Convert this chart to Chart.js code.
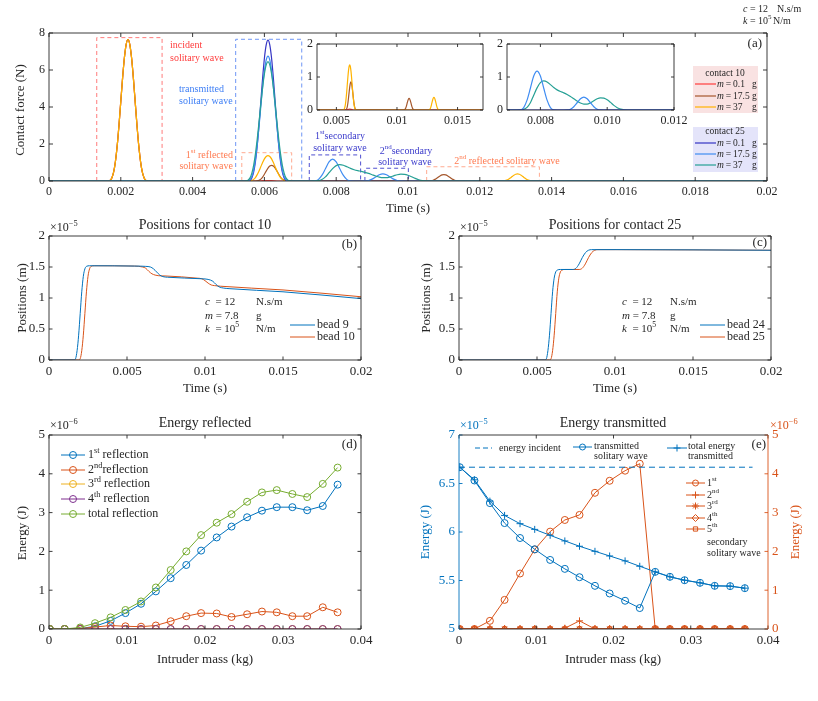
<!DOCTYPE html>
<html>
<head>
<meta charset="utf-8">
<script src="https://cdn.jsdelivr.net/npm/chart.js@4.4.1/dist/chart.umd.min.js"></script>
<style>
  html, body { margin: 0; padding: 0; background: #fff; }
  #wrap { position: relative; width: 818px; height: 701px; overflow: hidden; background: #fff; }
  #wrap canvas { position: absolute; left: 0; top: 0; }
</style>
</head>
<body>
<div id="wrap">
  <canvas id="cA" width="818" height="701"></canvas>
  <canvas id="cI1" width="818" height="701"></canvas>
  <canvas id="cI2" width="818" height="701"></canvas>
  <canvas id="cB" width="818" height="701"></canvas>
  <canvas id="cC" width="818" height="701"></canvas>
  <canvas id="cD" width="818" height="701"></canvas>
  <canvas id="cE" width="818" height="701"></canvas>
</div>
<script>
// ---- panel (a) : contact force ----
let tIncident = [0.0016,0.00165,0.0017,0.00175,0.0018,0.00185,0.0019,0.00195,0.002,0.00205,0.0021,0.00215,0.0022,0.00225,0.0023,0.00235,0.0024,0.00245,0.0025,0.00255,0.0026,0.00265,0.0027,0.00275,0.0028];
let fIncident = [0,0.002,0.034,0.164,0.478,1.051,1.913,3.031,4.303,5.574,6.659,7.391,7.65,7.391,6.659,5.574,4.303,3.031,1.913,1.051,0.478,0.164,0.034,0.002,0];

let tReflSmall = [0.0057,0.0059,0.006,0.0061,0.0062,0.0064];
let fReflSmall = [0,0.01,0.02,0.025,0.02,0];

let tRefl175 = [0.0057,0.00575,0.0058,0.00585,0.0059,0.00595,0.006,0.00605,0.0061,0.00615,0.0062,0.00625,0.0063,0.00635,0.0064,0.00645,0.0065,0.00655,0.0066,0.00665,0.0067];
let fRefl175 = [0,0.0005,0.008,0.036,0.101,0.213,0.364,0.536,0.695,0.809,0.85,0.809,0.695,0.536,0.364,0.213,0.101,0.036,0.008,0.0005,0];
let t2nd175 = [0.0105,0.01055,0.0106,0.01065,0.0107,0.01075,0.0108,0.01085,0.0109,0.01095,0.011,0.01105,0.0111,0.01115,0.0112,0.01125,0.0113,0.01135,0.0114,0.01145,0.0115];
let f2nd175 = [0,0.0002,0.003,0.015,0.042,0.088,0.15,0.221,0.286,0.333,0.35,0.333,0.286,0.221,0.15,0.088,0.042,0.015,0.003,0.0002,0];

let tRefl37 = [0.0055,0.00555,0.0056,0.00565,0.0057,0.00575,0.0058,0.00585,0.0059,0.00595,0.006,0.00605,0.0061,0.00615,0.0062,0.00625,0.0063,0.00635,0.0064,0.00645,0.0065,0.00655,0.0066,0.00665,0.0067];
let fRefl37 = [0,0.0004,0.006,0.029,0.086,0.188,0.343,0.543,0.771,0.998,1.193,1.324,1.37,1.324,1.193,0.998,0.771,0.543,0.343,0.188,0.086,0.029,0.006,0.0004,0];
let t2nd37 = [0.01255,0.0126,0.01265,0.0127,0.01275,0.0128,0.01285,0.0129,0.01295,0.013,0.01305,0.0131,0.01315,0.0132,0.01325,0.0133,0.01335,0.0134,0.01345,0.0135,0.01355];
let f2nd37 = [0,0.0002,0.0035,0.016,0.045,0.095,0.163,0.239,0.311,0.362,0.38,0.362,0.311,0.239,0.163,0.095,0.045,0.016,0.0035,0.0002,0];

let tTrans01 = [0.0055,0.00555,0.0056,0.00565,0.0057,0.00575,0.0058,0.00585,0.0059,0.00595,0.006,0.00605,0.0061,0.00615,0.0062,0.00625,0.0063,0.00635,0.0064,0.00645,0.0065,0.00655,0.0066,0.00665,0.0067];
let fTrans01 = [0,0.002,0.034,0.163,0.476,1.047,1.905,3.019,4.286,5.552,6.633,7.362,7.62,7.362,6.633,5.552,4.286,3.019,1.905,1.047,0.476,0.163,0.034,0.002,0];

let tTrans175 = [0.00545,0.0055,0.00555,0.0056,0.00565,0.0057,0.00575,0.0058,0.00585,0.0059,0.00595,0.006,0.00605,0.0061,0.00615,0.0062,0.00625,0.0063,0.00635,0.0064,0.00645,0.0065,0.00655,0.0066,0.00665,0.0067,0.00675];
let fTrans175 = [0,0,0.01,0.07,0.24,0.58,1.15,1.95,2.93,4.01,5.07,5.95,6.54,6.75,6.54,5.95,5.07,4.01,2.93,1.95,1.15,0.58,0.24,0.07,0.01,0,0];
let tSec175 = [0.0073,0.0074,0.0075,0.0076,0.0077,0.0078,0.0079,0.008,0.0081,0.0082,0.0083,0.0084,0.0085,0.0087,0.0088,0.0089,0.009,0.0091,0.0092,0.0093,0.0094,0.0095,0.0096,0.0097,0.0098,0.0099];
let fSec175 = [0,0.005,0.074,0.3,0.66,1.03,1.18,1.03,0.66,0.3,0.074,0.005,0,0,0.002,0.024,0.1,0.22,0.34,0.39,0.34,0.22,0.1,0.024,0.002,0];

let tTrans37 = [0.0054,0.00545,0.0055,0.00555,0.0056,0.00565,0.0057,0.00575,0.0058,0.00585,0.0059,0.00595,0.006,0.00605,0.0061,0.00615,0.0062,0.00625,0.0063,0.00635,0.0064,0.00645,0.0065,0.00655,0.0066,0.00665,0.0067,0.00675,0.0068];
let fTrans37 = [0,0,0.007,0.05,0.17,0.43,0.85,1.47,2.26,3.18,4.14,5.05,5.79,6.28,6.45,6.28,5.79,5.05,4.14,3.18,2.26,1.47,0.85,0.43,0.17,0.05,0.007,0,0];
let tSec37 = [0.0073,0.0075,0.0076,0.0077,0.0078,0.0079,0.008,0.0081,0.0082,0.0083,0.0084,0.0085,0.0086,0.0087,0.0088,0.0089,0.009,0.0091,0.0092,0.0093,0.0094,0.0095,0.0096,0.0097,0.0098,0.0099,0.01,0.0101,0.0102,0.0103,0.0104,0.0105,0.0106];
let fSec37 = [0,0.02,0.08,0.22,0.45,0.67,0.83,0.88,0.85,0.77,0.68,0.61,0.56,0.52,0.47,0.41,0.34,0.27,0.21,0.18,0.18,0.22,0.28,0.34,0.37,0.36,0.31,0.23,0.14,0.07,0.025,0.005,0];

let xTicksA = [0,0.002,0.004,0.006,0.008,0.01,0.012,0.014,0.016,0.018,0.02];
let xLabelsA = ['0','0.002','0.004','0.006','0.008','0.01','0.012','0.014','0.016','0.018','0.02'];
let yTicksA = [0,2,4,6,8];
let yLabelsA = ['0','2','4','6','8'];
let xTicksI1 = [0.005,0.01,0.015];
let xLabelsI1 = ['0.005','0.01','0.015'];
let xTicksI2 = [0.008,0.01,0.012];
let xLabelsI2 = ['0.008','0.010','0.012'];
let yTicksI = [0,1,2];
let yLabelsI = ['0','1','2'];

// ---- panels (b) and (c) : bead positions (x 1e-5 m) ----
let tBead9 = [0,0.0016,0.0017,0.0018,0.0019,0.002,0.0021,0.0022,0.0023,0.0024,0.0026,0.0055,0.0062,0.0065,0.0067,0.0069,0.0071,0.0073,0.0076,0.0098,0.0102,0.0105,0.0107,0.0109,0.0112,0.0116,0.015,0.02];
let pBead9 = [0,0,0.02,0.15,0.4,0.75,1.1,1.35,1.47,1.51,1.52,1.515,1.51,1.5,1.47,1.42,1.37,1.345,1.335,1.31,1.3,1.27,1.22,1.18,1.16,1.15,1.1,0.99];
let tBead10 = [0,0.0019,0.002,0.0021,0.0022,0.0023,0.0024,0.0025,0.0026,0.0027,0.0029,0.0055,0.006,0.0062,0.0064,0.0066,0.0068,0.007,0.0075,0.0095,0.0098,0.01,0.0102,0.0104,0.0106,0.011,0.015,0.02];
let pBead10 = [0,0,0.02,0.15,0.4,0.75,1.1,1.35,1.47,1.51,1.52,1.515,1.5,1.48,1.43,1.39,1.37,1.36,1.355,1.32,1.31,1.28,1.24,1.21,1.2,1.19,1.13,1.02];
let tBead24 = [0,0.0055,0.0056,0.0057,0.0058,0.0059,0.006,0.0061,0.0062,0.0063,0.0065,0.0073,0.0075,0.0077,0.0079,0.0081,0.0083,0.0085,0.01,0.02];
let pBead24 = [0,0,0.02,0.15,0.4,0.75,1.1,1.32,1.42,1.45,1.46,1.46,1.48,1.55,1.65,1.73,1.77,1.78,1.78,1.77];
let tBead25 = [0,0.0058,0.0059,0.006,0.0061,0.0062,0.0063,0.0064,0.0065,0.0066,0.0068,0.0077,0.0079,0.0081,0.0083,0.0085,0.0087,0.0089,0.01,0.02];
let pBead25 = [0,0,0.02,0.15,0.4,0.75,1.1,1.32,1.42,1.45,1.46,1.46,1.48,1.55,1.65,1.73,1.77,1.78,1.78,1.77];
let xTicksB = [0,0.005,0.01,0.015,0.02];
let xLabelsB = ['0','0.005','0.01','0.015','0.02'];
let yTicksB = [0,0.5,1,1.5,2];
let yLabelsB = ['0','0.5','1','1.5','2'];

// ---- panels (d) and (e) : energies vs intruder mass ----
let massKg = [0.0001,0.002,0.004,0.0059,0.0079,0.0098,0.0118,0.0137,0.0156,0.0176,0.0195,0.0215,0.0234,0.0254,0.0273,0.0292,0.0312,0.0331,0.0351,0.037];
let refl1 = [0,0,0.01,0.07,0.21,0.41,0.65,0.97,1.31,1.65,2.02,2.36,2.64,2.88,3.05,3.14,3.14,3.06,3.17,3.72];
let refl2 = [0,0,0.01,0.05,0.09,0.07,0.06,0.09,0.2,0.33,0.41,0.4,0.31,0.38,0.45,0.43,0.33,0.33,0.56,0.43];
let refl3 = [0,0,0,0,0,0,0,0,0,0,0,0,0,0,0,0,0,0,0,0];
let refl4 = [0,0,0,0,0,0,0,0,0,0,0,0,0,0,0,0,0,0,0,0];
let reflTotal = [0,0,0.04,0.15,0.3,0.49,0.71,1.07,1.52,2.0,2.42,2.74,2.96,3.28,3.52,3.58,3.48,3.4,3.74,4.16];

let incidentMass = [0,0.038];
let incidentE = [6.668,6.668];
let transWave = [6.668,6.531,6.298,6.092,5.938,5.822,5.712,5.62,5.534,5.445,5.366,5.291,5.216,5.589,5.538,5.503,5.476,5.445,5.442,5.421];
let transTotal = [6.668,6.538,6.318,6.171,6.086,6.027,5.966,5.908,5.853,5.801,5.753,5.702,5.647,5.589,5.538,5.503,5.476,5.445,5.442,5.421];
let sec1 = [0,0,0.21,0.75,1.43,2.05,2.51,2.81,2.94,3.51,3.82,4.08,4.26,0,0,0,0,0,0,0];
let sec2 = [0,0,0,0,0,0,0,0.02,0.21,0,0,0,0,0,0,0,0,0,0,0];
let sec3 = [0,0,0,0,0,0,0,0,0,0,0,0,0,0,0,0,0,0,0,0];
let sec4 = [0,0,0,0,0,0,0,0,0,0,0,0,0,0,0,0,0,0,0,0];
let sec5 = [0,0,0,0,0,0,0,0,0,0,0,0,0,0,0,0,0,0,0,0];
let xTicksD = [0,0.01,0.02,0.03,0.04];
let xLabelsD = ['0','0.01','0.02','0.03','0.04'];
let yTicksD = [0,1,2,3,4,5];
let yLabelsD = ['0','1','2','3','4','5'];
let yTicksE = [5,5.5,6,6.5,7];
let yLabelsE = ['5','5.5','6','6.5','7'];

const FONT = "'Liberation Serif','DejaVu Serif',serif";
const W = 818, H = 701, YW = 40, XH = 22;
const INK = '#262626';
const BLUE = '#0072BD', ORANGE = '#D95319', YELLOW = '#EDB120', PURPLE = '#7E2F8E', GREEN = '#77AC30';
const C10 = ['#FF3B3B', '#A5572C', '#FFB300'];
const C25 = ['#3535C4', '#3F8CF2', '#26A095'];

let DECO = {};
let FRAME = {};

/**
 * draws a string with ^{sup} and $italic$ parts
 */
let richText = (ctx, str, x, y, size, color, align) => {

  let segs = [];
  let buf = '', it = false, i = 0;
  while (i < str.length) {
    let c = str[i];
    if (c === '^' && str[i + 1] === '{') {
      if (buf) segs.push({ t: buf, it: it, sup: false });
      buf = '';
      let j = str.indexOf('}', i);
      segs.push({ t: str.slice(i + 2, j), it: it, sup: true });
      i = j + 1;
      continue;
    }
    if (c === '$') {
      if (buf) segs.push({ t: buf, it: it, sup: false });
      buf = '';
      it = !it;
      i++;
      continue;
    }
    buf += c;
    i++;
  }
  if (buf) segs.push({ t: buf, it: it, sup: false });

  let fnt = s => (s.it ? 'italic ' : '') + (s.sup ? size * 0.7 : size) + 'px ' + FONT;
  let w = 0;
  segs.forEach(s => { ctx.font = fnt(s); s.w = ctx.measureText(s.t).width; w += s.w; });
  let cx = align === 'center' ? x - w / 2 : (align === 'right' ? x - w : x);
  ctx.fillStyle = color;
  ctx.textBaseline = 'middle';
  ctx.textAlign = 'left';
  segs.forEach(s => {
    ctx.font = fnt(s);
    ctx.fillText(s.t, cx, s.sup ? y - size * 0.38 : y);
    cx += s.w;
  });
}

let decoPlugin = {
  id: 'deco',
  beforeDatasetsDraw(chart) {
    let d = DECO[chart.canvas.id];
    if (!d) return;
    let ctx = chart.ctx, a = chart.chartArea, xs = chart.scales.x, ys = chart.scales.y;
    ctx.save();
    if (d.fillArea) {
      ctx.fillStyle = '#fff';
      ctx.fillRect(a.left, a.top, a.right - a.left, a.bottom - a.top);
    }
    (d.boxes || []).forEach(b => {
      let x0 = xs.getPixelForValue(b.x0), x1 = xs.getPixelForValue(b.x1), y1 = ys.getPixelForValue(b.y1);
      ctx.strokeStyle = b.color;
      ctx.lineWidth = 1;
      ctx.setLineDash([4, 3]);
      ctx.beginPath();
      ctx.moveTo(x0, a.bottom); ctx.lineTo(x0, y1); ctx.lineTo(x1, y1); ctx.lineTo(x1, a.bottom);
      ctx.stroke();
    });
    ctx.restore();
  },
  afterDraw(chart) {
    let d = DECO[chart.canvas.id];
    if (!d) return;
    let ctx = chart.ctx;
    ctx.save();
    (d.rects || []).forEach(r => { ctx.fillStyle = r.fill; ctx.fillRect(r.x, r.y, r.w, r.h); });
    (d.keys || []).forEach(k => {
      ctx.strokeStyle = k.color;
      ctx.lineWidth = k.lw || 1.2;
      ctx.setLineDash(k.dash || []);
      ctx.beginPath(); ctx.moveTo(k.x1, k.y); ctx.lineTo(k.x2, k.y); ctx.stroke();
      ctx.setLineDash([]);
      if (k.marker) {
        ctx.fillStyle = 'rgba(0,0,0,0)';
        ctx.lineWidth = 1;
        Chart.helpers.drawPoint(ctx, { pointStyle: k.marker, radius: k.r || 3.5, borderWidth: 1, rotation: 0 }, (k.x1 + k.x2) / 2, k.y);
      }
    });
    (d.texts || []).forEach(t => {
      if (t.rot) {
        ctx.save();
        ctx.translate(t.x, t.y);
        ctx.rotate(-Math.PI / 2);
        richText(ctx, t.s, 0, 0, t.size, t.color || INK, 'center');
        ctx.restore();
      } else {
        richText(ctx, t.s, t.x, t.y, t.size, t.color || INK, t.align || 'left');
      }
    });
    ctx.restore();
  }
};

let framePlugin = {
  id: 'frame',
  afterDraw(chart) {
    let f = FRAME[chart.canvas.id];
    let ctx = chart.ctx, a = chart.chartArea, tl = f.tl;
    ctx.save();
    ctx.lineWidth = 0.9;
    ctx.setLineDash([]);
    let seg = (c, x1, y1, x2, y2) => { ctx.strokeStyle = c; ctx.beginPath(); ctx.moveTo(x1, y1); ctx.lineTo(x2, y2); ctx.stroke(); };
    let xs = chart.scales.x, ys = chart.scales.y, y2 = chart.scales.y2;
    let left = f.left || f.color, right = f.right || f.color;
    xs.ticks.forEach(t => {
      let p = xs.getPixelForValue(t.value);
      seg(f.color, p, a.bottom, p, a.bottom - tl);
      seg(f.color, p, a.top, p, a.top + tl);
    });
    ys.ticks.forEach(t => {
      let p = ys.getPixelForValue(t.value);
      seg(left, a.left, p, a.left + tl, p);
      if (!y2) seg(right, a.right, p, a.right - tl, p);
    });
    if (y2) y2.ticks.forEach(t => {
      let p = y2.getPixelForValue(t.value);
      seg(right, a.right, p, a.right - tl, p);
    });
    seg(f.color, a.left, a.top, a.right, a.top);
    seg(f.color, a.left, a.bottom, a.right, a.bottom);
    seg(left, a.left, a.top, a.left, a.bottom);
    seg(right, a.right, a.top, a.right, a.bottom);
    ctx.restore();
  }
};

let linAxis = (ticks, labels, size, color, min, max) => {
  return {
    type: 'linear',
    min: min !== undefined ? min : ticks[0],
    max: max !== undefined ? max : ticks[ticks.length - 1],
    grid: { display: false, drawTicks: false },
    border: { display: false },
    afterBuildTicks: s => { s.ticks = ticks.map(v => ({ value: v })); },
    ticks: { autoSkip: false, maxRotation: 0, padding: 4, color: color || INK, font: { family: FONT, size: size }, callback: (v, i) => labels[i] }
  };
}

let curve = (t, f, color, extra) => {
  return Object.assign({
    data: t.map((x, i) => ({ x: x, y: f[i] })),
    borderColor: color, backgroundColor: color,
    borderWidth: 1.2, pointRadius: 0, fill: false,
    cubicInterpolationMode: 'monotone'
  }, extra || {});
}

let marked = (t, f, color, style, extra) => {
  return Object.assign({
    data: t.map((x, i) => ({ x: x, y: f[i] })),
    borderColor: color, backgroundColor: color,
    borderWidth: 1, fill: false, tension: 0,
    pointStyle: style, pointRadius: 3.5,
    pointBorderColor: color, pointBackgroundColor: 'rgba(0,0,0,0)', pointBorderWidth: 1
  }, extra || {});
}

function panel(id, box, datasets, xAxis, yAxis, y2Axis) {

  let scales = {
    x: Object.assign(xAxis, { position: 'bottom', afterFit: s => { s.height = XH; } }),
    y: Object.assign(yAxis, { position: 'left', afterFit: s => { s.width = YW; } })
  };
  if (y2Axis) scales.y2 = Object.assign(y2Axis, { position: 'right', afterFit: s => { s.width = YW; } });

  return new Chart(document.getElementById(id), {
    type: 'line',
    data: { datasets: datasets },
    options: {
      responsive: false,
      animation: false,
      events: [],
      layout: { padding: { left: box.l - YW, top: box.t, right: W - box.r - (y2Axis ? YW : 0), bottom: H - box.b - XH } },
      plugins: { legend: { display: false }, tooltip: { enabled: false }, title: { display: false } },
      scales: scales
    },
    plugins: [decoPlugin, framePlugin]
  });
}

// series of panel (a)
let s10_01 = [[0, ...tIncident, ...tReflSmall, 0.02], [0, ...fIncident, ...fReflSmall, 0]];
let s10_175 = [[0, ...tIncident, ...tRefl175, ...t2nd175, 0.02], [0, ...fIncident, ...fRefl175, ...f2nd175, 0]];
let s10_37 = [[0, ...tIncident, ...tRefl37, ...t2nd37, 0.02], [0, ...fIncident, ...fRefl37, ...f2nd37, 0]];
let s25_01 = [[0, ...tTrans01, 0.02], [0, ...fTrans01, 0]];
let s25_175 = [[0, ...tTrans175, ...tSec175, 0.02], [0, ...fTrans175, ...fSec175, 0]];
let s25_37 = [[0, ...tTrans37, ...tSec37, 0.02], [0, ...fTrans37, ...fSec37, 0]];

let red = 'rgb(255,60,60)', blueAnn = '#3D7EF5', coral = '#FF7A50', navy = '#3A3ACB';
let eq = '\u2009=\u2009';

FRAME.cA = { color: INK, tl: 4 };
DECO.cA = {
  boxes: [
    { x0: 0.00133, x1: 0.00315, y1: 7.75, color: '#FF7B7B' },
    { x0: 0.0052, x1: 0.00704, y1: 7.66, color: '#6E96F5' },
    { x0: 0.00537, x1: 0.00676, y1: 1.53, color: '#FFAA90' },
    { x0: 0.00725, x1: 0.00868, y1: 1.41, color: '#5050D0' },
    { x0: 0.0088, x1: 0.01001, y1: 0.69, color: '#5050D0' },
    { x0: 0.01052, x1: 0.01366, y1: 0.77, color: '#FFAA90' }
  ],
  rects: [
    { x: 693, y: 66, w: 65, h: 47, fill: '#F9E2E2' },
    { x: 693, y: 127, w: 65, h: 45, fill: '#E4E4FA' }
  ],
  keys: [
    { x1: 695, x2: 716, y: 84, color: C10[0] },
    { x1: 695, x2: 716, y: 96, color: C10[1] },
    { x1: 695, x2: 716, y: 107, color: C10[2] },
    { x1: 695, x2: 716, y: 143, color: C25[0] },
    { x1: 695, x2: 716, y: 154, color: C25[1] },
    { x1: 695, x2: 716, y: 165, color: C25[2] }
  ],
  texts: [
    { x: 21, y: 110, s: 'Contact force (N)', size: 13, rot: true },
    { x: 408, y: 209, s: 'Time (s)', size: 13, align: 'center' },
    { x: 762, y: 44, s: '(a)', size: 13, align: 'right' },
    { x: 743, y: 9, s: '$c$ = 12', size: 10 },
    { x: 777, y: 9, s: 'N.s/m', size: 10 },
    { x: 743, y: 21, s: '$k$ = 10^{5}', size: 10 },
    { x: 773, y: 21, s: 'N/m', size: 10 },
    { x: 170, y: 45, s: 'incident', size: 10, color: red },
    { x: 170, y: 58, s: 'solitary wave', size: 10, color: red },
    { x: 179, y: 89, s: 'transmitted', size: 10, color: blueAnn },
    { x: 179, y: 101, s: 'solitary wave', size: 10, color: blueAnn },
    { x: 233, y: 155, s: '1^{st} reflected', size: 10, color: coral, align: 'right' },
    { x: 233, y: 166, s: 'solitary wave', size: 10, color: coral, align: 'right' },
    { x: 340, y: 136, s: '1^{st}secondary', size: 10, color: navy, align: 'center' },
    { x: 340, y: 148, s: 'solitary wave', size: 10, color: navy, align: 'center' },
    { x: 406, y: 151, s: '2^{nd}secondary', size: 10, color: navy, align: 'center' },
    { x: 405, y: 162, s: 'solitary wave', size: 10, color: navy, align: 'center' },
    { x: 507, y: 161, s: '2^{nd} reflected solitary wave', size: 10, color: coral, align: 'center' },
    { x: 725, y: 73, s: 'contact 10', size: 9.5, align: 'center' },
    { x: 717, y: 84, s: '$m$' + eq + '0.1', size: 9.5 },
    { x: 717, y: 96, s: '$m$' + eq + '17.5', size: 9.5 },
    { x: 717, y: 107, s: '$m$' + eq + '37', size: 9.5 },
    { x: 752, y: 84, s: 'g', size: 9.5 },
    { x: 752, y: 96, s: 'g', size: 9.5 },
    { x: 752, y: 107, s: 'g', size: 9.5 },
    { x: 725, y: 131, s: 'contact 25', size: 9.5, align: 'center' },
    { x: 717, y: 143, s: '$m$' + eq + '0.1', size: 9.5 },
    { x: 717, y: 154, s: '$m$' + eq + '17.5', size: 9.5 },
    { x: 717, y: 165, s: '$m$' + eq + '37', size: 9.5 },
    { x: 752, y: 143, s: 'g', size: 9.5 },
    { x: 752, y: 154, s: 'g', size: 9.5 },
    { x: 752, y: 165, s: 'g', size: 9.5 }
  ]
};

panel('cA', { l: 49, r: 767, t: 33, b: 181 }, [
  curve(s25_37[0], s25_37[1], C25[2]),
  curve(s25_175[0], s25_175[1], C25[1]),
  curve(s25_01[0], s25_01[1], C25[0]),
  curve(s10_37[0], s10_37[1], C10[2]),
  curve(s10_175[0], s10_175[1], C10[1]),
  curve(s10_01[0], s10_01[1], C10[0])
], linAxis(xTicksA, xLabelsA, 12), linAxis(yTicksA, yLabelsA, 12));

// inset 1 : contact 10 only
FRAME.cI1 = { color: INK, tl: 3 };
DECO.cI1 = { fillArea: true };
panel('cI1', { l: 317, r: 483, t: 44, b: 110 }, [
  curve(s10_37[0], s10_37[1], C10[2]),
  curve(s10_01[0], s10_01[1], C10[0]),
  curve(s10_175[0], s10_175[1], C10[1])
], linAxis(xTicksI1, xLabelsI1, 12, INK, 0.0034, 0.0171), linAxis(yTicksI, yLabelsI, 12));

// inset 2 : contact 25 only
FRAME.cI2 = { color: INK, tl: 3 };
DECO.cI2 = { fillArea: true };
panel('cI2', { l: 507, r: 674, t: 44, b: 110 }, [
  curve(s25_01[0], s25_01[1], C25[0]),
  curve(s25_175[0], s25_175[1], C25[1]),
  curve(s25_37[0], s25_37[1], C25[2])
], linAxis(xTicksI2, xLabelsI2, 12, INK, 0.007, 0.012), linAxis(yTicksI, yLabelsI, 12));

// (b)
FRAME.cB = { color: INK, tl: 3.5 };
DECO.cB = {
  keys: [
    { x1: 290, x2: 315, y: 325, color: BLUE, lw: 1 },
    { x1: 290, x2: 315, y: 337, color: ORANGE, lw: 1 }
  ],
  texts: [
    { x: 205, y: 225, s: 'Positions for contact 10', size: 14, align: 'center' },
    { x: 50, y: 228, s: '×10^{−5}', size: 12 },
    { x: 23, y: 298, s: 'Positions (m)', size: 13, rot: true },
    { x: 205, y: 389, s: 'Time (s)', size: 13, align: 'center' },
    { x: 357, y: 245, s: '(b)', size: 13, align: 'right' },
    { x: 205, y: 302, s: '$c$  = 12', size: 11 },
    { x: 205, y: 316, s: '$m$ = 7.8', size: 11 },
    { x: 205, y: 329, s: '$k$  = 10^{5}', size: 11 },
    { x: 256, y: 302, s: 'N.s/m', size: 11 },
    { x: 256, y: 316, s: 'g', size: 11 },
    { x: 256, y: 329, s: 'N/m', size: 11 },
    { x: 317, y: 325, s: 'bead 9', size: 12 },
    { x: 317, y: 337, s: 'bead 10', size: 12 }
  ]
};
panel('cB', { l: 49, r: 361, t: 236, b: 360 }, [
  curve(tBead9, pBead9, BLUE, { borderWidth: 1 }),
  curve(tBead10, pBead10, ORANGE, { borderWidth: 1 })
], linAxis(xTicksB, xLabelsB, 13), linAxis(yTicksB, yLabelsB, 13));

// (c)
FRAME.cC = { color: INK, tl: 3.5 };
DECO.cC = {
  keys: [
    { x1: 700, x2: 725, y: 325, color: BLUE, lw: 1 },
    { x1: 700, x2: 725, y: 337, color: ORANGE, lw: 1 }
  ],
  texts: [
    { x: 615, y: 225, s: 'Positions for contact 25', size: 14, align: 'center' },
    { x: 460, y: 228, s: '×10^{−5}', size: 12 },
    { x: 427, y: 298, s: 'Positions (m)', size: 13, rot: true },
    { x: 615, y: 389, s: 'Time (s)', size: 13, align: 'center' },
    { x: 767, y: 243, s: '(c)', size: 13, align: 'right' },
    { x: 622, y: 302, s: '$c$  = 12', size: 11 },
    { x: 622, y: 316, s: '$m$ = 7.8', size: 11 },
    { x: 622, y: 329, s: '$k$  = 10^{5}', size: 11 },
    { x: 670, y: 302, s: 'N.s/m', size: 11 },
    { x: 670, y: 316, s: 'g', size: 11 },
    { x: 670, y: 329, s: 'N/m', size: 11 },
    { x: 727, y: 325, s: 'bead 24', size: 12 },
    { x: 727, y: 337, s: 'bead 25', size: 12 }
  ]
};
panel('cC', { l: 459, r: 771, t: 236, b: 360 }, [
  curve(tBead24, pBead24, BLUE, { borderWidth: 1 }),
  curve(tBead25, pBead25, ORANGE, { borderWidth: 1 })
], linAxis(xTicksB, xLabelsB, 13), linAxis(yTicksB, yLabelsB, 13));

// (d)
FRAME.cD = { color: INK, tl: 3.5 };
DECO.cD = {
  keys: [
    { x1: 61, x2: 85, y: 455, color: BLUE, marker: 'circle', lw: 1 },
    { x1: 61, x2: 85, y: 470, color: ORANGE, marker: 'circle', lw: 1 },
    { x1: 61, x2: 85, y: 484, color: YELLOW, marker: 'circle', lw: 1 },
    { x1: 61, x2: 85, y: 499, color: PURPLE, marker: 'circle', lw: 1 },
    { x1: 61, x2: 85, y: 514, color: GREEN, marker: 'circle', lw: 1 }
  ],
  texts: [
    { x: 205, y: 423, s: 'Energy reflected', size: 14, align: 'center' },
    { x: 50, y: 426, s: '×10^{−6}', size: 12 },
    { x: 23, y: 533, s: 'Energy (J)', size: 13, rot: true },
    { x: 205, y: 660, s: 'Intruder mass (kg)', size: 13, align: 'center' },
    { x: 357, y: 445, s: '(d)', size: 13, align: 'right' },
    { x: 88, y: 455, s: '1^{st} reflection', size: 12 },
    { x: 88, y: 470, s: '2^{nd}reflection', size: 12 },
    { x: 88, y: 484, s: '3^{rd} reflection', size: 12 },
    { x: 88, y: 499, s: '4^{th} reflection', size: 12 },
    { x: 88, y: 514, s: 'total reflection', size: 12 }
  ]
};
panel('cD', { l: 49, r: 361, t: 435, b: 629 }, [
  marked(massKg, reflTotal, GREEN, 'circle'),
  marked(massKg, refl4, PURPLE, 'circle'),
  marked(massKg, refl3, YELLOW, 'circle'),
  marked(massKg, refl2, ORANGE, 'circle'),
  marked(massKg, refl1, BLUE, 'circle')
], linAxis(xTicksD, xLabelsD, 13), linAxis(yTicksD, yLabelsD, 13));

// (e)
FRAME.cE = { color: INK, tl: 3.5, left: BLUE, right: ORANGE };
DECO.cE = {
  keys: [
    { x1: 475, x2: 492, y: 448, color: BLUE, dash: [5, 3], lw: 1 },
    { x1: 573, x2: 592, y: 447, color: BLUE, marker: 'circle', r: 3, lw: 1 },
    { x1: 667, x2: 687, y: 448, color: BLUE, marker: 'cross', r: 3.5, lw: 1 },
    { x1: 686, x2: 705, y: 483, color: ORANGE, marker: 'circle', r: 3, lw: 1 },
    { x1: 686, x2: 705, y: 495, color: ORANGE, marker: 'cross', r: 3.5, lw: 1 },
    { x1: 686, x2: 705, y: 506, color: ORANGE, marker: 'star', r: 3.5, lw: 1 },
    { x1: 686, x2: 705, y: 518, color: ORANGE, marker: 'rectRot', r: 3.5, lw: 1 },
    { x1: 686, x2: 705, y: 529, color: ORANGE, marker: 'rect', r: 3, lw: 1 }
  ],
  texts: [
    { x: 613, y: 423, s: 'Energy transmitted', size: 14, align: 'center' },
    { x: 460, y: 426, s: '×10^{−5}', size: 12, color: BLUE },
    { x: 770, y: 426, s: '×10^{−6}', size: 12, color: ORANGE },
    { x: 426, y: 532, s: 'Energy (J)', size: 13, rot: true, color: BLUE },
    { x: 796, y: 532, s: 'Energy (J)', size: 13, rot: true, color: ORANGE },
    { x: 613, y: 660, s: 'Intruder mass (kg)', size: 13, align: 'center' },
    { x: 766, y: 445, s: '(e)', size: 13, align: 'right' },
    { x: 499, y: 448, s: 'energy incident', size: 10 },
    { x: 594, y: 446, s: 'transmitted', size: 10 },
    { x: 594, y: 456, s: 'solitary wave', size: 10 },
    { x: 688, y: 446, s: 'total energy', size: 10 },
    { x: 688, y: 456, s: 'transmitted', size: 10 },
    { x: 707, y: 483, s: '1^{st}', size: 10 },
    { x: 707, y: 495, s: '2^{nd}', size: 10 },
    { x: 707, y: 506, s: '3^{rd}', size: 10 },
    { x: 707, y: 518, s: '4^{th}', size: 10 },
    { x: 707, y: 529, s: '5^{th}', size: 10 },
    { x: 707, y: 542, s: 'secondary', size: 10 },
    { x: 707, y: 553, s: 'solitary wave', size: 10 }
  ]
};
panel('cE', { l: 459, r: 768, t: 435, b: 629 }, [
  curve(incidentMass, incidentE, BLUE, { borderDash: [6, 4], borderWidth: 1, cubicInterpolationMode: 'default', yAxisID: 'y' }),
  marked(massKg, transWave, BLUE, 'circle', { yAxisID: 'y' }),
  marked(massKg, transTotal, BLUE, 'cross', { yAxisID: 'y' }),
  marked(massKg, sec2, ORANGE, 'cross', { yAxisID: 'y2' }),
  marked(massKg, sec1, ORANGE, 'circle', { yAxisID: 'y2' }),
  marked(massKg, sec3, ORANGE, 'star', { yAxisID: 'y2' }),
  marked(massKg, sec4, ORANGE, 'rectRot', { yAxisID: 'y2' }),
  marked(massKg, sec5, ORANGE, 'rect', { yAxisID: 'y2', pointRadius: 3 })
], linAxis(xTicksD, xLabelsD, 13), linAxis(yTicksE, yLabelsE, 13, BLUE), linAxis(yTicksD, yLabelsD, 13, ORANGE));
</script>
</body>
</html>
